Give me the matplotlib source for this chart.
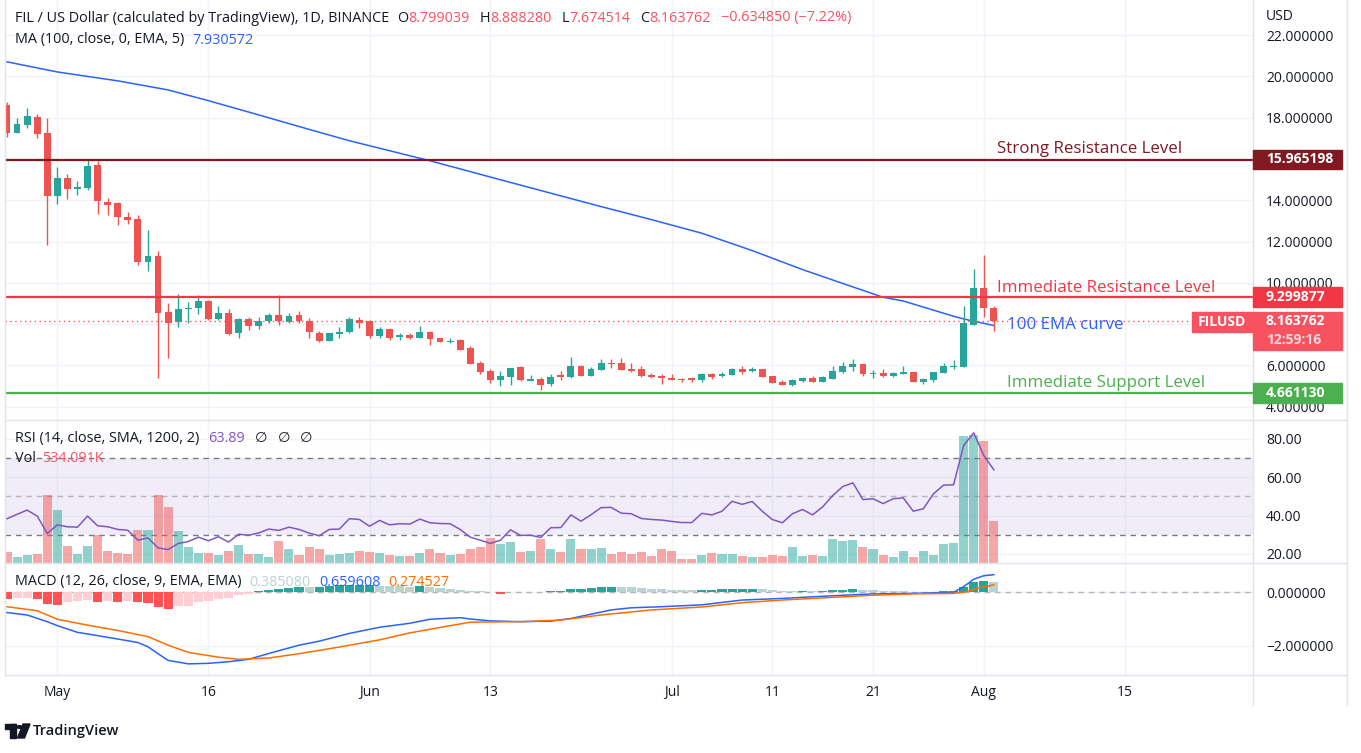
import numpy as np
import pandas as pd
import matplotlib
matplotlib.use("Agg")
import matplotlib.pyplot as plt
from matplotlib.patches import Rectangle, Circle, Polygon
from matplotlib.ticker import FuncFormatter

plt.rcParams['font.family'] = ['Open Sans', 'DejaVu Sans']

# ---- data (daily FIL/USD bars from 26 Apr 2022 to 2 Aug 2022) ----
start_date = "2022-04-26"
opens = [18.62, 17.25, 17.66, 18.04, 17.26, 14.18, 15.09, 14.56, 14.60, 15.72,
         13.93, 13.88, 13.20, 13.11, 10.99, 11.32, 8.61, 8.09, 8.72, 8.76,
         9.14, 8.23, 8.56, 7.56, 8.23, 7.89, 8.14, 8.42, 8.09, 8.42,
         8.13, 7.58, 7.18, 7.52, 7.61, 8.18, 8.14, 7.42, 7.74, 7.39,
         7.45, 7.32, 7.60, 7.31, 7.15, 7.21, 6.82, 6.10, 5.71, 5.29,
         5.44, 5.92, 5.24, 5.34, 5.10, 5.52, 5.42, 5.95, 5.49, 5.78,
         6.11, 6.10, 5.81, 5.81, 5.52, 5.47, 5.39, 5.34, 5.39, 5.28,
         5.57, 5.47, 5.52, 5.81, 5.73, 5.81, 5.47, 5.18, 5.03, 5.23,
         5.37, 5.18, 5.33, 5.66, 5.90, 6.05, 5.58, 5.61, 5.47, 5.58,
         5.66, 5.20, 5.28, 5.61, 5.92, 5.92, 7.98, 9.77, 8.799039]
highs = [18.75, 17.97, 18.46, 18.18, 17.97, 15.61, 15.28, 14.94, 15.96, 15.88,
         14.12, 13.93, 13.45, 13.30, 12.58, 11.53, 9.00, 9.48, 9.09, 9.39,
         9.16, 8.90, 8.71, 8.29, 8.32, 8.32, 8.52, 9.43, 8.56, 8.63,
         8.29, 7.69, 7.58, 7.84, 8.32, 8.32, 8.18, 7.84, 7.81, 7.56,
         7.58, 7.90, 7.65, 7.35, 7.35, 7.26, 6.92, 6.19, 5.81, 5.71,
         5.86, 5.95, 5.52, 5.42, 5.57, 5.71, 6.39, 6.00, 5.90, 6.29,
         6.29, 6.34, 6.10, 5.95, 5.62, 5.57, 5.57, 5.39, 5.44, 5.65,
         5.62, 5.68, 5.86, 5.95, 5.90, 5.81, 5.47, 5.28, 5.34, 5.44,
         5.47, 5.47, 5.95, 6.15, 6.29, 6.05, 5.76, 5.81, 5.68, 5.95,
         5.66, 5.40, 5.66, 6.10, 6.24, 8.90, 10.68, 11.37, 8.888280]
lows = [17.04, 17.25, 17.49, 16.99, 11.85, 13.83, 14.07, 14.27, 14.51, 13.35,
        13.30, 12.82, 12.87, 10.84, 10.56, 5.37, 6.36, 7.85, 8.05, 8.48,
        8.18, 8.19, 7.48, 7.35, 7.71, 7.76, 8.03, 7.98, 8.05, 8.05,
        7.32, 7.13, 7.18, 7.35, 7.56, 7.81, 7.32, 7.32, 7.22, 7.21,
        7.26, 7.32, 6.98, 7.13, 7.08, 6.74, 6.06, 5.58, 5.15, 5.00,
        5.05, 5.24, 5.24, 4.81, 5.00, 5.29, 5.39, 5.49, 5.49, 5.78,
        5.87, 5.78, 5.66, 5.42, 5.39, 5.10, 5.28, 5.22, 5.20, 5.22,
        5.33, 5.42, 5.52, 5.57, 5.66, 5.42, 5.13, 5.03, 4.99, 5.18,
        5.18, 5.18, 5.33, 5.63, 5.71, 5.47, 5.39, 5.42, 5.42, 5.58,
        5.20, 5.10, 5.22, 5.61, 5.81, 5.90, 7.94, 8.36, 7.674514]
closes = [17.25, 17.70, 18.09, 17.23, 14.18, 15.09, 14.56, 14.62, 15.67, 13.94,
          13.78, 13.17, 13.06, 10.99, 11.32, 8.53, 8.05, 8.71, 8.80, 9.14,
          8.23, 8.56, 7.50, 8.23, 7.90, 8.16, 8.42, 8.13, 8.40, 8.13,
          7.61, 7.18, 7.55, 7.60, 8.23, 8.05, 7.42, 7.74, 7.32, 7.45,
          7.32, 7.60, 7.26, 7.13, 7.18, 6.74, 6.06, 5.68, 5.29, 5.47,
          5.86, 5.29, 5.34, 5.03, 5.46, 5.42, 5.95, 5.49, 5.81, 6.10,
          6.05, 5.78, 5.71, 5.47, 5.42, 5.39, 5.28, 5.28, 5.28, 5.57,
          5.42, 5.58, 5.81, 5.66, 5.81, 5.42, 5.13, 5.03, 5.28, 5.37,
          5.18, 5.42, 5.71, 5.95, 6.05, 5.57, 5.63, 5.47, 5.61, 5.66,
          5.20, 5.33, 5.66, 5.95, 5.95, 8.03, 9.77, 8.80, 8.163762]
volume_k = [137, 73, 99, 111, 874, 682, 221, 111, 214, 362,
            157, 132, 119, 426, 426, 874, 713, 413, 201, 132,
            132, 99, 157, 234, 119, 119, 81, 285, 175, 106,
            209, 175, 106, 119, 132, 157, 145, 132, 106, 86,
            86, 132, 175, 132, 106, 119, 175, 209, 324, 247,
            273, 145, 157, 311, 183, 145, 311, 183, 183, 196,
            119, 145, 119, 145, 93, 183, 157, 55, 55, 106,
            128, 111, 119, 93, 81, 73, 106, 93, 209, 93,
            106, 93, 311, 285, 298, 209, 183, 106, 81, 157,
            81, 157, 106, 247, 260, 1620, 1635, 1565, 534.091]
rsi_vals = [38.4, 40.7, 42.9, 39.8, 30.7, 35.2, 34.2, 34.0, 39.8, 34.7,
            34.2, 32.8, 32.4, 27.2, 28.4, 23.2, 22.3, 25.5, 26.5, 28.8,
            26.9, 29.0, 26.2, 30.3, 29.8, 31.0, 33.0, 32.3, 34.0, 32.8,
            30.9, 29.5, 32.8, 33.0, 38.4, 38.0, 34.5, 37.5, 35.2, 35.8,
            35.6, 38.2, 36.3, 35.9, 35.8, 32.8, 28.8, 27.2, 25.5, 27.2,
            32.6, 29.7, 29.8, 28.6, 33.7, 33.8, 40.4, 37.1, 40.5, 44.2,
            44.3, 41.3, 41.0, 38.5, 38.0, 37.7, 37.0, 36.4, 36.4, 41.2,
            40.4, 42.3, 47.5, 45.9, 47.4, 42.3, 38.0, 36.3, 41.0, 43.2,
            40.4, 44.6, 50.5, 55.2, 57.1, 48.4, 48.8, 46.3, 48.8, 49.3,
            42.3, 43.6, 51.4, 55.9, 56.1, 76.6, 83.2, 71.4, 63.89]
macd_hist = [-0.26, -0.22, -0.21, -0.26, -0.45, -0.47, -0.35, -0.32, -0.29, -0.35,
             -0.32, -0.35, -0.31, -0.37, -0.40, -0.56, -0.61, -0.52, -0.50, -0.37,
             -0.32, -0.26, -0.22, -0.12, -0.06, 0.04, 0.08, 0.12, 0.16, 0.20,
             0.18, 0.21, 0.24, 0.26, 0.27, 0.28, 0.285, 0.25, 0.24, 0.22,
             0.20, 0.23, 0.20, 0.16, 0.12, 0.09, 0.06, 0.03, 0.01, -0.05,
             0.02, 0.01, 0.02, 0.01, 0.05, 0.055, 0.125, 0.13, 0.16, 0.19,
             0.20, 0.19, 0.185, 0.16, 0.125, 0.12, 0.09, 0.088, 0.085, 0.09,
             0.095, 0.12, 0.125, 0.13, 0.135, 0.12, 0.09, 0.055, 0.05, 0.055,
             0.05, 0.055, 0.09, 0.095, 0.125, 0.09, 0.085, 0.055, 0.05, 0.045,
             0.015, 0.01, 0.015, 0.05, 0.055, 0.20, 0.39, 0.44, 0.385080]

# sparse readings of the smooth lines (bar number counted from 26 Apr)
ema_bar = [0, 5, 11, 16, 20, 25, 30, 34, 42, 49, 59, 64, 69, 74, 79, 84, 87, 89, 94, 95, 98]
ema_val = [20.70, 20.21, 19.78, 19.34, 18.82, 18.13, 17.43, 16.88, 15.91, 14.99,
           13.69, 13.06, 12.40, 11.56, 10.64, 9.80, 9.30, 9.12, 8.38, 8.25, 7.930572]
macd_bar = [0, 2, 4, 5, 7, 8, 11, 13, 14, 15, 16, 18, 20, 22, 24, 26, 29, 31, 34, 37,
            40, 42, 45, 46, 48, 51, 54, 56, 60, 62, 65, 69, 73, 77, 82, 86, 90, 94,
            95, 96, 97, 98]
macd_val = [-0.76, -0.85, -1.10, -1.25, -1.50, -1.56, -1.75, -1.88, -2.04, -2.30,
            -2.55, -2.68, -2.66, -2.60, -2.51, -2.29, -1.98, -1.83, -1.54, -1.31,
            -1.16, -1.01, -0.95, -1.00, -1.07, -1.10, -1.08, -0.98, -0.66, -0.58,
            -0.54, -0.47, -0.29, -0.23, -0.13, -0.06, -0.04, 0.0,
            0.21, 0.49, 0.62, 0.659608]
signal_bar = [0, 3, 5, 8, 11, 14, 16, 18, 21, 23, 26, 29, 33, 37, 40, 44, 46, 51, 55,
              59, 64, 69, 73, 77, 82, 86, 90, 94, 95, 96, 97, 98]
signal_val = [-0.54, -0.69, -1.01, -1.23, -1.43, -1.66, -1.98, -2.25, -2.43, -2.51,
              -2.46, -2.30, -2.05, -1.78, -1.52, -1.25, -1.12, -1.10, -1.04,
              -0.85, -0.66, -0.55, -0.39, -0.29, -0.19, -0.11, -0.06, -0.04,
              0.0, 0.11, 0.21, 0.274527]

strong_res = 15.965198
imm_res = 9.299877
imm_sup = 4.661130
last_close = closes[-1]

date_ticks = ["2022-05-01", "2022-05-16", "2022-06-01", "2022-06-13", "2022-07-01",
              "2022-07-11", "2022-07-21", "2022-08-01", "2022-08-15"]
date_labels = ["May", "16", "Jun", "13", "Jul", "11", "21", "Aug", "15"]

# ---- colours ----
dark = "#131722"
red_txt = "#F7525F"
up_c, down_c = "#26A69A", "#EF5350"
strong_c, res_c, sup_c = "#801922", "#F23645", "#4CAF50"
ema_c = "#2962FF"
rsi_c = "#7E57C2"
sig_c = "#FF6D00"
grid_c = "#F0F3FA"
sep_c = "#E0E3EB"
light_h = "#B8D4D2"

W, H = 1361, 753
fig = plt.figure(figsize=(W / 100, H / 100), dpi=100)
fx = lambda px: px / W
fy = lambda py: 1 - py / H

x = np.arange(len(closes))
t0 = pd.Timestamp(start_date)
tick_pos = [(pd.Timestamp(d) - t0).days for d in date_ticks]
xlim = ((5 - 7) / 10.07, (1253 - 7) / 10.07)

ax = fig.add_axes([fx(5), fy(420), 1248 / W, 420 / H])
ax_rsi = fig.add_axes([fx(5), fy(563), 1248 / W, 143 / H])
ax_vol = ax_rsi.twinx()
ax_line = ax_rsi.twinx()
ax_macd = fig.add_axes([fx(5), fy(675), 1248 / W, 112 / H])


def style(a, yticks, fmt, hidden=()):
    a.set_xlim(*xlim)
    for s in a.spines.values():
        s.set_visible(False)
    a.set_xticks(tick_pos)
    a.set_yticks(yticks)
    a.grid(color=grid_c, lw=1)
    a.set_axisbelow(True)

    def f(v, p):
        if any(abs(v - hv) < 1e-9 for hv in hidden):
            return ""
        return fmt.format(v).replace("-", "\u2212")
    a.yaxis.set_major_formatter(FuncFormatter(f))
    a.yaxis.set_label_position("right")
    a.tick_params(axis="both", length=0, labelsize=10, labelcolor=dark)
    a.tick_params(axis="y", left=False, labelleft=False, right=False, labelright=True, pad=9.4)
    a.tick_params(axis="x", labelbottom=False)


# ---- price pane ----
# 8 and 16 sit under the price tags, so their labels stay empty
style(ax, np.arange(4, 23, 2), "{:.6f}", hidden=(8, 16))
ax.set_ylim(3.356, 23.695)
o, h, l, c = map(np.array, (opens, highs, lows, closes))
col = np.where(c >= o, up_c, down_c)
ax.vlines(x, l, h, colors=col, lw=1.0, zorder=3)
body = np.maximum(np.abs(c - o), 0.05)
ax.bar(x, body, bottom=np.minimum(o, c), width=0.68, color=col, zorder=3)
ax.plot(ema_bar, ema_val, color=ema_c, lw=1.1, zorder=2)

for lvl, cc in [(strong_res, strong_c), (imm_res, res_c), (imm_sup, sup_c)]:
    ax.axhline(lvl, color=cc, lw=1.6, zorder=4)
ax.plot([xlim[0], (1190 - 7) / 10.07], [last_close, last_close], color=red_txt,
        lw=1.0, ls=(0, (1, 2.5)), zorder=4)

lab = 12.2
ax.annotate("Strong Resistance Level", xy=(98.3, strong_res), xytext=(0, 8),
            textcoords="offset points", va="center", color=strong_c, fontsize=lab)
ax.annotate("Immediate Resistance Level", xy=(98.3, imm_res), xytext=(0, 6.6),
            textcoords="offset points", va="center", color=res_c, fontsize=lab)
ax.annotate("Immediate Support Level", xy=(99.3, imm_sup), xytext=(0, 7.4),
            textcoords="offset points", va="center", color=sup_c, fontsize=lab)
ax.annotate("100 EMA curve", xy=(99.3, last_close), xytext=(0, -3),
            textcoords="offset points", va="center", color=ema_c, fontsize=lab)

# ---- RSI + volume pane ----
style(ax_rsi, [20, 40, 60, 80], "{:.2f}")
ax_rsi.set_ylim(15.3, 89.9)
ax_rsi.axhspan(30, 70, color=rsi_c, alpha=0.1, lw=0)
ax_rsi.axhline(70, color="#787B86", lw=1, dashes=(4, 3.5))
ax_rsi.axhline(30, color="#787B86", lw=1, dashes=(4, 3.5))
ax_rsi.axhline(50, color="#787B86", lw=1, dashes=(4, 3.5), alpha=0.5)

ax_vol.set_ylim(0, 1830)
ax_vol.set_xlim(*xlim)
ax_vol.bar(x, volume_k, width=0.9, color=col, alpha=0.5, lw=0)
ax_vol.axis("off")

ax_line.set_ylim(15.3, 89.9)
ax_line.set_xlim(*xlim)
ax_line.plot(x, rsi_vals, color=rsi_c, lw=1.1)
ax_line.axis("off")

# ---- MACD pane ----
style(ax_macd, [-2, 0], "{:.6f}")
ax_macd.set_ylim(-3.097, 1.097)
hcols = []
for i, v in enumerate(macd_hist):
    prev = macd_hist[i - 1] if i > 0 else v
    if v >= 0:
        hcols.append(up_c if v >= prev else light_h)
    else:
        hcols.append("#FFCDD2" if v > prev else "#FF5252")
ax_macd.bar(x, macd_hist, width=0.9, color=hcols, lw=0, zorder=2)
ax_macd.axhline(0, color="#787B86", lw=1, dashes=(4, 3.5), alpha=0.5, zorder=1)
ax_macd.plot(macd_bar, macd_val, color=ema_c, lw=1.1, zorder=3)
ax_macd.plot(signal_bar, signal_val, color=sig_c, lw=1.1, zorder=3)
ax_macd.set_xticklabels(date_labels)
ax_macd.tick_params(axis="x", labelbottom=True, pad=7)

# ---- separators ----
for py in (420, 563, 675):
    fig.add_artist(plt.Line2D([fx(5), fx(1347)], [fy(py), fy(py)], color=sep_c, lw=1))
for px in (1253, 1347):
    fig.add_artist(plt.Line2D([fx(px), fx(px)], [fy(0), fy(705)], color=sep_c, lw=1))
fig.add_artist(plt.Line2D([fx(5), fx(5)], [fy(0), fy(675)], color=sep_c, lw=1))

# ---- legend-like headers ----
renderer = fig.canvas.get_renderer()


def segments(x0, y0, segs, size=10.4):
    xx = x0
    for s, cc, gap in segs:
        t = fig.text(fx(xx), fy(y0), s, color=cc, fontsize=size, va="center", ha="left")
        xx += t.get_window_extent(renderer).width + gap


segments(15, 18, [("FIL / US Dollar (calculated by TradingView), 1D, BINANCE", dark, 8),
                  ("O", dark, 0), ("8.799039", red_txt, 10), ("H", dark, 0), ("8.888280", red_txt, 10),
                  ("L", dark, 0), ("7.674514", red_txt, 10), ("C", dark, 0), ("8.163762", red_txt, 10),
                  ("\u22120.634850 (\u22127.22%)", red_txt, 0)])
segments(15, 40, [("MA (100, close, 0, EMA, 5)", dark, 8), ("7.930572", ema_c, 0)])
segments(15, 438, [("RSI (14, close, SMA, 1200, 2)", dark, 9), ("63.89", rsi_c, 10),
                   ("\u2205", dark, 10), ("\u2205", dark, 10), ("\u2205", dark, 0)])
segments(15, 459, [("Vol", dark, 6), ("534.091K", red_txt, 0)])
segments(15, 582, [("MACD (12, 26, close, 9, EMA, EMA)", dark, 8), ("0.385080", light_h, 8),
                   ("0.659608", ema_c, 8), ("0.274527", sig_c, 0)])
fig.text(fx(1266), fy(16), "USD", color=dark, fontsize=10, va="center")

# ---- price tags on the right axis ----


def ypx(v):
    return H - ax.transData.transform((0, v))[1]


def tag(x0, x1, top, bot, colr, lines, ha="left"):
    fig.add_artist(Rectangle((fx(x0), fy(bot)), (x1 - x0) / W, (bot - top) / H,
                             transform=fig.transFigure, color=colr, zorder=5))
    n = len(lines)
    for k, (s, a) in enumerate(lines):
        yy = top + (bot - top) * (k + 0.5) / n
        xx = 1266 if ha == "left" else (x0 + x1) / 2
        fig.text(fx(xx), fy(yy), s, color="white", alpha=a, fontsize=10, fontweight="bold",
                 va="center", ha=ha, zorder=6)


for lvl, colr in [(strong_res, strong_c), (imm_res, res_c), (imm_sup, sup_c)]:
    yc = ypx(lvl)
    tag(1253, 1342, yc - 10, yc + 9.5, colr, [(f"{lvl:.6f}", 1.0)])
yc = ypx(last_close)
tag(1253, 1342, yc - 9, yc + 29, red_txt, [(f"{last_close:.6f}", 1.0), ("12:59:16", 0.8)])
tag(1192, 1252, yc - 9, yc + 11, red_txt, [("FILUSD", 1.0)], ha="center")

# ---- TradingView mark ----
fig.add_artist(Rectangle((fx(5), fy(729)), 11 / W, 5 / H, transform=fig.transFigure, color=dark))
fig.add_artist(Rectangle((fx(10), fy(738)), 6 / W, 14 / H, transform=fig.transFigure, color=dark))
fig.add_artist(Circle((fx(19.5), fy(727)), 2.4 / W, transform=fig.transFigure, color=dark))
fig.add_artist(Polygon([(fx(23), fy(724)), (fx(30), fy(724)), (fx(24.5), fy(738)), (fx(17.5), fy(738))],
                       closed=True, transform=fig.transFigure, color=dark))
fig.text(fx(33), fy(731), "TradingView", color=dark, fontsize=10.5, fontweight="semibold", va="center")

fig.savefig("out.png", dpi=100, facecolor="white")
